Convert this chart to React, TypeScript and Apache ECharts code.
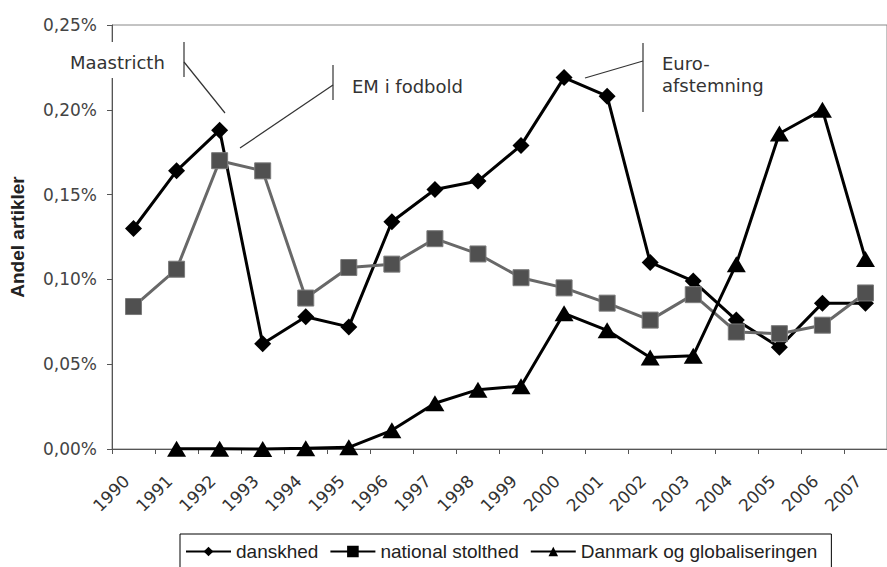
import React, { useEffect, useRef } from "react";
import * as echarts from "echarts";

const years = ["1990","1991","1992","1993","1994","1995","1996","1997","1998","1999","2000","2001","2002","2003","2004","2005","2006","2007"];
const danskhed = [0.130, 0.164, 0.188, 0.062, 0.078, 0.072, 0.134, 0.153, 0.158, 0.179, 0.219, 0.208, 0.110, 0.099, 0.076, 0.060, 0.086, 0.086];
const nationalStolthed = [0.084, 0.106, 0.170, 0.164, 0.089, 0.107, 0.109, 0.124, 0.115, 0.101, 0.095, 0.086, 0.076, 0.091, 0.069, 0.068, 0.073, 0.092];
const globalisering = [null, 0.0002, 0.0002, 0.0, 0.0004, 0.001, 0.011, 0.027, 0.035, 0.037, 0.080, 0.070, 0.054, 0.055, 0.109, 0.186, 0.200, 0.112];
const seriesNames = ["danskhed", "national stolthed", "Danmark og globaliseringen"];
const yTicks = { min: 0, max: 0.25, interval: 0.05 };

const AX_FONT = "DejaVu Sans";

export default function App() {
  const ref = useRef<HTMLDivElement>(null);
  useEffect(() => {
    if (!ref.current) return;
    const chart = echarts.init(ref.current, null, { renderer: "svg" });
    const lineStroke = "#333";
    const annFont = `18px "${AX_FONT}"`;
    chart.setOption({
      animation: false,
      backgroundColor: "#fff",
      grid: {
        left: 112,
        top: 25,
        width: 781,
        height: 424,
        show: true,
        borderColor: "#888",
        borderWidth: 1,
        backgroundColor: "transparent",
      },
      xAxis: {
        type: "category",
        data: years,
        boundaryGap: true,
        axisLine: { show: true, lineStyle: { color: "#555", width: 1 } },
        axisTick: { show: true, length: 5, inside: false, lineStyle: { color: "#555" } },
        axisLabel: {
          interval: 0,
          rotate: 45,
          margin: 22,
          padding: [0, 10, 0, 0],
          fontSize: 17,
          fontFamily: AX_FONT,
          color: "#333",
        },
        splitLine: { show: false },
      },
      yAxis: {
        type: "value",
        min: yTicks.min,
        max: yTicks.max,
        interval: yTicks.interval,
        name: "Andel artikler",
        nameLocation: "middle",
        nameGap: 85,
        nameTextStyle: {
          fontFamily: "Liberation Sans",
          fontWeight: "bold",
          fontSize: 19,
          color: "#222",
        },
        axisLine: { show: true, lineStyle: { color: "#555", width: 1 } },
        axisTick: { show: true, length: 5, inside: false, lineStyle: { color: "#555" } },
        axisLabel: {
          margin: 15,
          fontSize: 17,
          fontFamily: AX_FONT,
          color: "#444",
          formatter: (v: number) => v.toFixed(2).replace(".", ",") + "%",
        },
        splitLine: { show: false },
      },
      legend: {
        left: 180,
        top: 534,
        padding: [8, 14, 30, 5],
        itemGap: 11,
        itemWidth: 45,
        itemHeight: 12,
        borderColor: "#000",
        borderWidth: 1,
        textStyle: { fontFamily: "Liberation Sans", fontSize: 19, color: "#222" },
        data: [
          { name: seriesNames[0] },
          { name: seriesNames[1], itemStyle: { color: "#000", borderColor: "#000" }, lineStyle: { color: "#000" } },
          { name: seriesNames[2] },
        ],
      },
      series: [
        {
          name: seriesNames[0],
          type: "line",
          data: danskhed,
          clip: false,
          symbol: "diamond",
          symbolSize: 17,
          lineStyle: { color: "#000", width: 3 },
          itemStyle: { color: "#000" },
        },
        {
          name: seriesNames[1],
          type: "line",
          data: nationalStolthed,
          clip: false,
          symbol: "rect",
          symbolSize: 16,
          lineStyle: { color: "#686868", width: 3 },
          itemStyle: { color: "#505050", borderColor: "#7a7a7a", borderWidth: 1 },
        },
        {
          name: seriesNames[2],
          type: "line",
          data: globalisering,
          clip: false,
          connectNulls: false,
          symbol: "triangle",
          symbolSize: [19, 16],
          lineStyle: { color: "#000", width: 3 },
          itemStyle: { color: "#000" },
        },
      ],
      graphic: [
        { type: "rect", z: 100, shape: { x: 64, y: 42, width: 108, height: 36 }, style: { fill: "#fff" } },
        { type: "text", z: 101, x: 70, y: 62, style: { text: "Maastricth", font: annFont, fill: "#333", verticalAlign: "middle" } },
        { type: "line", z: 101, shape: { x1: 184, y1: 42, x2: 184, y2: 77 }, style: { stroke: lineStroke, lineWidth: 1.2 } },
        { type: "line", z: 101, shape: { x1: 184, y1: 62, x2: 225, y2: 113 }, style: { stroke: lineStroke, lineWidth: 1.2 } },

        { type: "text", z: 101, x: 352, y: 86, style: { text: "EM i fodbold", font: annFont, fill: "#333", verticalAlign: "middle" } },
        { type: "line", z: 101, shape: { x1: 333, y1: 65, x2: 333, y2: 100 }, style: { stroke: lineStroke, lineWidth: 1.2 } },
        { type: "line", z: 101, shape: { x1: 333, y1: 85, x2: 240, y2: 148 }, style: { stroke: lineStroke, lineWidth: 1.2 } },

        { type: "text", z: 101, x: 662, y: 63, style: { text: "Euro-", font: annFont, fill: "#333", verticalAlign: "middle" } },
        { type: "text", z: 101, x: 662, y: 85, style: { text: "afstemning", font: annFont, fill: "#333", verticalAlign: "middle" } },
        { type: "line", z: 101, shape: { x1: 643, y1: 43, x2: 643, y2: 112 }, style: { stroke: lineStroke, lineWidth: 1.2 } },
        { type: "line", z: 101, shape: { x1: 643, y1: 61, x2: 585, y2: 78 }, style: { stroke: lineStroke, lineWidth: 1.2 } },
      ],
    });
    return () => chart.dispose();
  }, []);
  return (
    <div
      ref={ref}
      style={{ position: "absolute", left: 0, top: 0, width: 887, height: 567 }}
    />
  );
}
